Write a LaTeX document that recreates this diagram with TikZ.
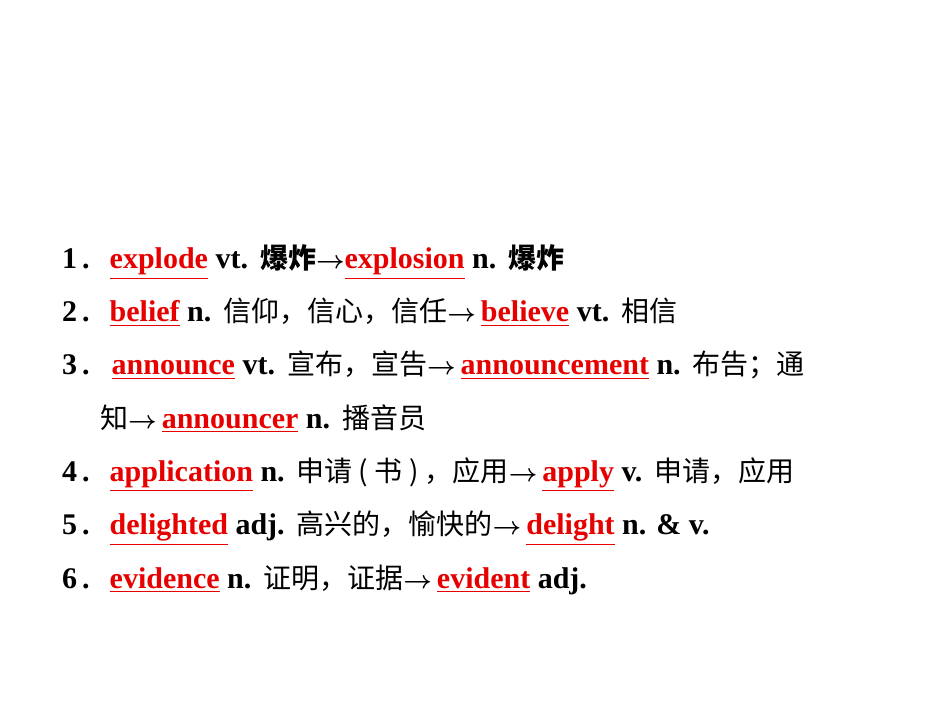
\documentclass[tikz,border=0pt]{standalone}
\usepackage{amsmath}
\usepackage{fontspec}
\setmainfont{Liberation Serif}[BoldFont={Liberation Serif Bold}]
\newfontfamily\cjk{Noto Sans CJK SC}
\definecolor{ans}{RGB}{230,0,0}
\newcommand{\ans}[1]{\textcolor{ans}{\underline{#1}}}
\newcommand{\zh}[1]{{\mdseries\cjk\fontsize{28}{30}\selectfont #1}}
\newcommand{\zhb}[1]{{\bfseries\cjk\fontsize{28}{30}\selectfont #1}}
\newcommand{\ar}{{\fontsize{24}{26}\selectfont$\boldsymbol{\rightarrow}$}}
\newcommand{\gapx}{\hspace{12pt}}
\begin{document}
\begin{tikzpicture}[x=1pt,y=1pt,
  ln/.style={anchor=base west,inner sep=0pt,font=\fontsize{30}{36}\selectfont\bfseries}]
\useasboundingbox (0,0) rectangle (950,713);
\fill[white] (0,0) rectangle (950,713);
\node[ln] (l1) at (62,713-269) {\bfseries 1\,.\hspace{20pt}\ans{explode} vt.\gapx\zhb{爆炸}\ar\ans{explosion} n.\gapx\zhb{爆炸}};
\node[ln] (l2) at (62,713-322) {\bfseries 2\,.\hspace{20pt}\ans{belief} n.\gapx\zh{信仰，信心，信任}\ar\,\ans{believe} vt.\gapx\zh{相信}};
\node[ln] (l3) at (62,713-375) {\bfseries 3\,.\hspace{22pt}\ans{announce} vt.\gapx\zh{宣布，宣告}\ar\,\ans{announcement} n.\gapx\zh{布告；通}};
\node[ln] (l3b) at (100,713-428) {\bfseries\zh{知}\ar\,\ans{announcer} n.\gapx\zh{播音员}};
\node[ln] (l4) at (62,713-481) {\bfseries 4\,.\hspace{20pt}\ans{application} n.\gapx\zh{申请 ( 书 ) ，应用}\ar\,\ans{apply} v.\gapx\zh{申请，应用}};
\node[ln] (l5) at (62,713-534) {\bfseries 5\,.\hspace{20pt}\ans{delighted} adj.\gapx\zh{高兴的，愉快的}\ar\,\ans{delight} n. \& v.};
\node[ln] (l6) at (62,713-588) {\bfseries 6\,.\hspace{20pt}\ans{evidence} n.\gapx\zh{证明，证据}\ar\,\ans{evident} adj.};
\end{tikzpicture}
\end{document}
